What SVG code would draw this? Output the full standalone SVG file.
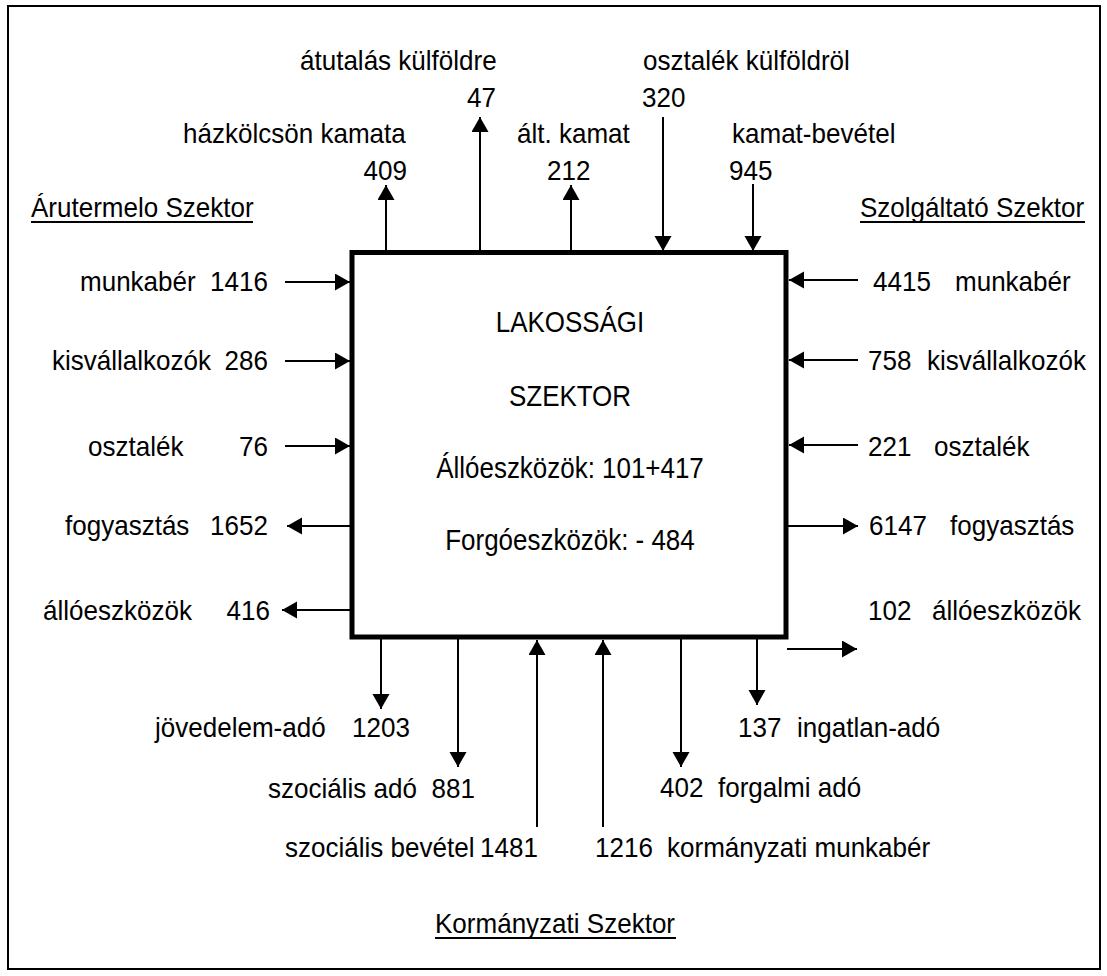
<svg xmlns="http://www.w3.org/2000/svg" width="1107" height="976" viewBox="0 0 1107 976">
<style>
text{font-family:"Liberation Sans",Arial,sans-serif;font-size:28px;fill:#000}
.c{font-size:29.5px;text-anchor:middle}
.e{text-anchor:end}
.a{stroke:#000;stroke-width:2;fill:none;marker-end:url(#ah)}
.u{stroke:#000;stroke-width:2}
</style>
<defs>
<marker id="ah" markerUnits="userSpaceOnUse" markerWidth="16" markerHeight="18" refX="15" refY="8.5" orient="auto">
<path d="M0,0 L15,8.5 L0,17 z" fill="#000"/>
</marker>
</defs>
<rect x="0" y="0" width="1107" height="976" fill="#fff"/>
<rect id="frame" x="8" y="6" width="1092" height="963" fill="none" stroke="#000" stroke-width="2"/>

<g id="lakossagi">
<rect x="352" y="252.5" width="434" height="384.5" fill="none" stroke="#000" stroke-width="5"/>
<text class="c" transform="translate(570,332) scale(0.88,1)">LAKOSSÁGI</text>
<text class="c" transform="translate(570,406) scale(0.88,1)">SZEKTOR</text>
<text class="c" transform="translate(570,478) scale(0.88,1)">Állóeszközök: 101+417</text>
<text class="c" transform="translate(570,550) scale(0.88,1)">Forgóeszközök: - 484</text>
</g>

<g id="arutermelo">
<text transform="translate(31,217) scale(0.93,1)">Árutermelo Szektor</text>
<line class="u" x1="31" y1="222" x2="253" y2="222"/>
</g>
<g id="szolgaltato">
<text transform="translate(860,217) scale(0.93,1)">Szolgáltató Szektor</text>
<line class="u" x1="860" y1="222" x2="1085" y2="222"/>
</g>
<g id="kormanyzati">
<text transform="translate(435,933) scale(0.93,1)">Kormányzati Szektor</text>
<line class="u" x1="435" y1="938" x2="676" y2="938"/>
</g>

<g id="labels-top">
<text transform="translate(300,70) scale(0.93,1)">átutalás külföldre</text>
<text transform="translate(467,107) scale(0.93,1)">47</text>
<text transform="translate(643,70) scale(0.93,1)">osztalék külföldröl</text>
<text transform="translate(642,107) scale(0.93,1)">320</text>
<text transform="translate(183,143) scale(0.93,1)">házkölcsön kamata</text>
<text class="e" transform="translate(407,180) scale(0.93,1)">409</text>
<text transform="translate(517,143) scale(0.93,1)">ált. kamat</text>
<text transform="translate(547,180) scale(0.93,1)">212</text>
<text transform="translate(732,143) scale(0.93,1)">kamat-bevétel</text>
<text transform="translate(729,180) scale(0.93,1)">945</text>
</g>

<g id="labels-left">
<text transform="translate(80,291) scale(0.93,1)">munkabér</text><text class="e" transform="translate(268,291) scale(0.93,1)">1416</text>
<text transform="translate(52,370) scale(0.93,1)">kisvállalkozók</text><text class="e" transform="translate(268,370) scale(0.93,1)">286</text>
<text transform="translate(88,456) scale(0.93,1)">osztalék</text><text class="e" transform="translate(268,456) scale(0.93,1)">76</text>
<text transform="translate(65,535) scale(0.93,1)">fogyasztás</text><text class="e" transform="translate(268,535) scale(0.93,1)">1652</text>
<text transform="translate(43,620) scale(0.93,1)">állóeszközök</text><text class="e" transform="translate(270,620) scale(0.93,1)">416</text>
</g>

<g id="labels-right">
<text transform="translate(873,291) scale(0.93,1)">4415</text><text transform="translate(955,291) scale(0.93,1)">munkabér</text>
<text transform="translate(868,370) scale(0.93,1)">758</text><text transform="translate(927,370) scale(0.93,1)">kisvállalkozók</text>
<text transform="translate(868,456) scale(0.93,1)">221</text><text transform="translate(934,456) scale(0.93,1)">osztalék</text>
<text transform="translate(869,535) scale(0.93,1)">6147</text><text transform="translate(950,535) scale(0.93,1)">fogyasztás</text>
<text transform="translate(868,620) scale(0.93,1)">102</text><text transform="translate(932,620) scale(0.93,1)">állóeszközök</text>
</g>

<g id="labels-bottom">
<text transform="translate(155,737) scale(0.93,1)">jövedelem-adó</text><text transform="translate(352,737) scale(0.93,1)">1203</text>
<text transform="translate(268,798) scale(0.93,1)">szociális adó</text><text class="e" transform="translate(475,798) scale(0.93,1)">881</text>
<text transform="translate(285,857) scale(0.93,1)">szociális bevétel</text><text class="e" transform="translate(538,857) scale(0.93,1)">1481</text>
<text transform="translate(595,857) scale(0.93,1)">1216</text><text transform="translate(667,857) scale(0.93,1)">kormányzati munkabér</text>
<text transform="translate(660,797) scale(0.93,1)">402</text><text transform="translate(718,797) scale(0.93,1)">forgalmi adó</text>
<text transform="translate(738,737) scale(0.93,1)">137</text><text transform="translate(797,737) scale(0.93,1)">ingatlan-adó</text>
</g>

<g id="connectors">
<line class="a" x1="386" y1="250" x2="386" y2="185"/>
<line class="a" x1="480" y1="250" x2="480" y2="117"/>
<line class="a" x1="571" y1="250" x2="571" y2="185"/>
<line class="a" x1="663" y1="117" x2="663" y2="251"/>
<line class="a" x1="753" y1="184" x2="753" y2="251"/>

<line class="a" x1="285" y1="282" x2="350" y2="282"/>
<line class="a" x1="285" y1="361" x2="350" y2="361"/>
<line class="a" x1="285" y1="446" x2="350" y2="446"/>
<line class="a" x1="350" y1="526" x2="287" y2="526"/>
<line class="a" x1="350" y1="610" x2="282" y2="610"/>

<line class="a" x1="858" y1="280" x2="789" y2="280"/>
<line class="a" x1="858" y1="360" x2="789" y2="360"/>
<line class="a" x1="858" y1="445" x2="789" y2="445"/>
<line class="a" x1="788" y1="526" x2="858" y2="526"/>
<line class="a" x1="787" y1="649" x2="857" y2="649"/>

<line class="a" x1="381" y1="639" x2="381" y2="709"/>
<line class="a" x1="458" y1="639" x2="458" y2="767"/>
<line class="a" x1="537" y1="827" x2="537" y2="640"/>
<line class="a" x1="603" y1="827" x2="603" y2="640"/>
<line class="a" x1="681" y1="639" x2="681" y2="767"/>
<line class="a" x1="757" y1="639" x2="757" y2="705"/>
</g>
</svg>
